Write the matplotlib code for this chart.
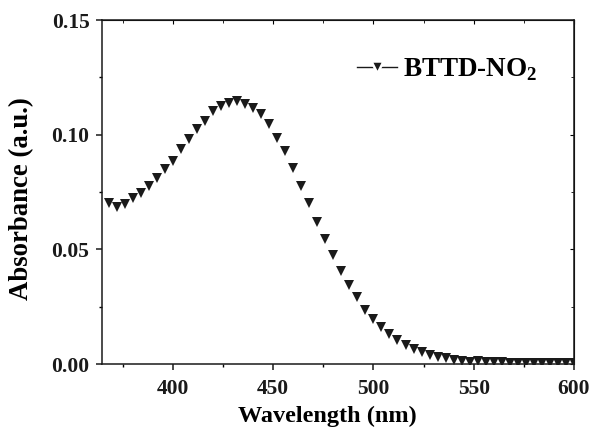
import matplotlib
matplotlib.use("Agg")
import matplotlib.pyplot as plt
from matplotlib.lines import Line2D
from matplotlib.ticker import MultipleLocator

plt.rcParams['font.family'] = ['Liberation Serif', 'DejaVu Serif']
plt.rcParams['font.weight'] = 'bold'
plt.rcParams['mathtext.fontset'] = 'custom'
plt.rcParams['mathtext.rm'] = 'Liberation Serif:bold'
plt.rcParams['mathtext.bf'] = 'Liberation Serif:bold'

wavelength = [368, 372, 376, 380, 384, 388, 392, 396, 400, 404, 408, 412, 416,
              420, 424, 428, 432, 436, 440, 444, 448, 452, 456, 460, 464, 468,
              472, 476, 480, 484, 488, 492, 496, 500, 504, 508, 512, 516, 520,
              524, 528, 532, 536, 540, 544, 548, 552, 556, 560, 564, 568, 572,
              576, 580, 584, 588, 592, 596, 600]
absorbance = [0.0701, 0.0683, 0.0696, 0.0722, 0.0744, 0.0778, 0.0810, 0.0852,
              0.0886, 0.0937, 0.0981, 0.1026, 0.1061, 0.1103, 0.1126, 0.1137,
              0.1145, 0.1132, 0.1118, 0.1089, 0.1045, 0.0987, 0.0929, 0.0853,
              0.0777, 0.0701, 0.0620, 0.0545, 0.0475, 0.0407, 0.0344, 0.0291,
              0.0237, 0.0195, 0.0163, 0.0129, 0.0105, 0.0083, 0.0064, 0.0051,
              0.0039, 0.0032, 0.0025, 0.0019, 0.0014, 0.0010, 0.0014, 0.0010,
              0.0008, 0.0007, 0.0006, 0.0005, 0.0005, 0.0004, 0.0004, 0.0004,
              0.0006, 0.0004, 0.0003]
series_label = 'BTTD-NO$_\\mathbf{2}$'
x_ticks = [400, 450, 500, 550, 600]
y_ticks = [0.00, 0.05, 0.10, 0.15]

fig = plt.figure(figsize=(5.92, 4.29), dpi=100)
ax = fig.add_axes([102/592, 1-364/429, (574-102)/592, (364-20)/429])

ax.plot(wavelength, absorbance, linestyle='none', marker='v', color='#1a1a1a',
        markersize=6.5, markeredgewidth=0)

ax.set_xlim(364.7, 600)
ax.set_ylim(0, 0.15)
ax.set_xticks(x_ticks)
ax.set_yticks(y_ticks)
ax.set_yticklabels(['%.2f' % v for v in y_ticks])
ax.xaxis.set_minor_locator(MultipleLocator(25))
ax.yaxis.set_minor_locator(MultipleLocator(0.025))

for s in ax.spines.values():
    s.set_linewidth(1.1)
    s.set_color('#1a1a1a')

ax.tick_params(axis='both', which='major', direction='out', length=4, width=1.1,
               labelsize=15.5, pad=5, colors='#1a1a1a')
ax.tick_params(axis='x', which='major', pad=7)
ax.tick_params(axis='both', which='minor', direction='out', length=2.5, width=1.0)
# mirror ticks on top/right drawn inward
secx = ax.secondary_xaxis('top')
secx.set_xticks(x_ticks)
secx.xaxis.set_minor_locator(MultipleLocator(25))
secx.tick_params(which='major', direction='in', length=3, labeltop=False)
secx.tick_params(which='minor', direction='in', length=2, labeltop=False)
secy = ax.secondary_yaxis('right')
secy.set_yticks(y_ticks)
secy.yaxis.set_minor_locator(MultipleLocator(0.025))
secy.tick_params(which='major', direction='in', length=3, labelright=False)
secy.tick_params(which='minor', direction='in', length=2, labelright=False)
ax.tick_params(top=False, right=False, which='both')

for lab in ax.get_xticklabels() + ax.get_yticklabels():
    lab.set_fontweight('bold')

ax.set_xlabel('Wavelength (nm)', fontsize=17.5, fontweight='bold')
ax.set_ylabel('Absorbance (a.u.)', fontsize=19.3, fontweight='bold')
ax.xaxis.set_label_coords(0.477, -0.122)
ax.yaxis.set_label_coords(-0.143, 0.48)

handle = Line2D([], [], color='#1a1a1a', linewidth=1.0, marker='v',
                markersize=8, markeredgewidth=1.8, markeredgecolor='white',
                markerfacecolor='#1a1a1a')
leg = ax.legend([handle], [series_label], loc='upper right', frameon=False,
                fontsize=19.5, handlelength=1.45, handletextpad=0.25,
                bbox_to_anchor=(0.975, 0.965))
for t in leg.get_texts():
    t.set_fontweight('bold')

fig.savefig('out.png', dpi=100)
